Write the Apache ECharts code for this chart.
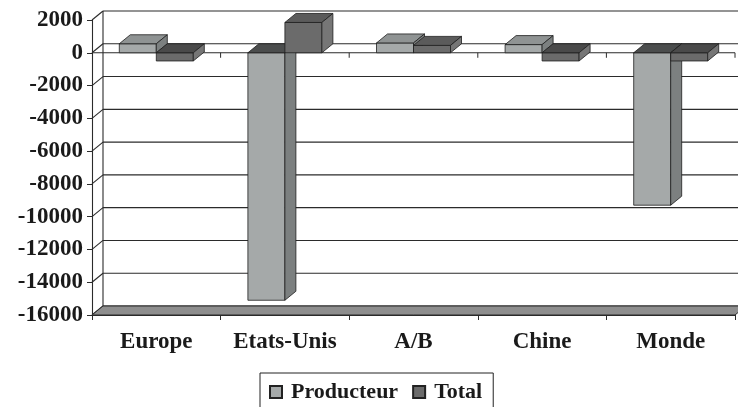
<!DOCTYPE html>
<html>
<head>
<meta charset="utf-8">
<script src="https://cdn.jsdelivr.net/npm/echarts@6/dist/echarts.min.js"></script>
<style>
  html, body { margin: 0; padding: 0; background: #fff; }
  #chart { width: 738px; height: 407px; }
</style>
</head>
<body>
<div id="chart"></div>
<script>
// Balance per region (Producteur vs Total)
const categories = ['Europe', 'Etats-Unis', 'A/B', 'Chine', 'Monde'];
const producteur = [550, -15100, 600, 500, -9300];
const total = [-500, 1850, 450, -500, -500];
const yTicks = [2000, 0, -2000, -4000, -6000, -8000, -10000, -12000, -14000, -16000];

// Pseudo-3D depth offset (pixels) and bar width
const DX = 11, DY = -9;
const BAR_W = 37;
const SERIF = '"Liberation Serif", "Times New Roman", serif';

const palette = {
  Producteur: { front: '#a5a9a9', topPos: '#8f9393', topNeg: '#4b4d4d', side: '#7c8080' },
  Total: { front: '#6b6b6b', topPos: '#5b5b5b', topNeg: '#4a4a4a', side: '#767676' }
};

// Back wall gridlines + side wall diagonals, one item per tick value
function renderGrid(params, api) {
  const cs = params.coordSys;
  const y = api.coord([0, api.value(1)])[1];
  const x0 = cs.x, x1 = cs.x + cs.width;
  const st = { stroke: '#2b2b2b', lineWidth: 1.1 };
  return {
    type: 'group',
    children: [
      { type: 'line', shape: { x1: x0, y1: y, x2: x0 + DX, y2: y + DY }, style: st },
      { type: 'line', shape: { x1: x0 + DX, y1: y + DY, x2: x1 + DX, y2: y + DY }, style: st }
    ]
  };
}

// Floor, wall edge and the front zero line with its category ticks
function renderFrame(params, api) {
  const cs = params.coordSys;
  const x0 = cs.x, x1 = cs.x + cs.width;
  const yB = api.coord([0, yTicks[yTicks.length - 1]])[1];
  const yT = api.coord([0, yTicks[0]])[1];
  const y0 = api.coord([0, 0])[1];
  const band = cs.width / categories.length;
  const children = [
    { type: 'polygon', shape: { points: [[x0, yB], [x1, yB], [x1 + DX, yB + DY], [x0 + DX, yB + DY]] },
      style: { fill: '#8e8e8e', stroke: '#2b2b2b', lineWidth: 1 } },
    { type: 'line', shape: { x1: x0 + DX, y1: yT + DY, x2: x0 + DX, y2: yB + DY },
      style: { stroke: '#2b2b2b', lineWidth: 1.1 } },
    { type: 'line', shape: { x1: x0, y1: y0, x2: x1, y2: y0 },
      style: { stroke: '#2b2b2b', lineWidth: 1.1 } }
  ];
  for (let i = 1; i <= categories.length; i++) {
    const x = x0 + i * band;
    children.push({ type: 'line', shape: { x1: x, y1: y0, x2: x, y2: y0 + 5 },
      style: { stroke: '#2b2b2b', lineWidth: 1 } });
  }
  return { type: 'group', children };
}

function barRenderer(slot, colors) {
  return function (params, api) {
    const ci = api.value(0), v = api.value(1);
    const base = api.coord([ci, 0]);
    const tip = api.coord([ci, v]);
    const xl = base[0] - BAR_W + slot * BAR_W;
    const xr = xl + BAR_W;
    const yT = Math.min(base[1], tip[1]);
    const yB = Math.max(base[1], tip[1]);
    const edge = { stroke: '#1e1e1e', lineWidth: 0.8 };
    return {
      type: 'group',
      children: [
        { type: 'polygon', shape: { points: [[xl, yT], [xl, yB], [xr, yB], [xr, yT]] },
          style: Object.assign({ fill: colors.front }, edge) },
        { type: 'polygon', shape: { points: [[xl, yT], [xr, yT], [xr + DX, yT + DY], [xl + DX, yT + DY]] },
          style: Object.assign({ fill: v >= 0 ? colors.topPos : colors.topNeg }, edge) },
        { type: 'polygon', shape: { points: [[xr, yT], [xr + DX, yT + DY], [xr + DX, yB + DY], [xr, yB]] },
          style: Object.assign({ fill: colors.side }, edge) }
      ]
    };
  };
}

const chart = echarts.init(document.getElementById('chart'), null, { renderer: 'canvas' });
chart.setOption({
  animation: false,
  backgroundColor: '#fff',
  textStyle: { fontFamily: SERIF },
  grid: { left: 92, right: 3, top: 20, bottom: 92, containLabel: false },
  legend: {
    data: ['Producteur', 'Total'],
    left: 260,
    top: 373,
    orient: 'horizontal',
    icon: 'rect',
    itemWidth: 12,
    itemHeight: 12,
    itemGap: 14,
    padding: [8, 11, 6, 9],
    backgroundColor: '#fff',
    borderColor: '#222',
    borderWidth: 1,
    borderRadius: 0,
    textStyle: { fontFamily: SERIF, fontWeight: 'bold', fontSize: 22, color: '#1a1a1a', padding: [0, 0, 0, 4] },
    selectedMode: false
  },
  xAxis: {
    type: 'category',
    data: categories,
    boundaryGap: true,
    axisLine: { show: true, onZero: false, lineStyle: { color: '#2b2b2b', width: 1.1 } },
    axisTick: { show: true, length: 5, alignWithLabel: false, interval: 0, lineStyle: { color: '#2b2b2b' } },
    axisLabel: { interval: 0, margin: 16, fontFamily: SERIF, fontWeight: 'bold', fontSize: 23, color: '#1a1a1a' },
    splitLine: { show: false }
  },
  yAxis: {
    type: 'value',
    min: -16000,
    max: 2000,
    interval: 2000,
    axisLine: { show: true, lineStyle: { color: '#2b2b2b', width: 1.1 } },
    axisTick: { show: true, length: 5, lineStyle: { color: '#2b2b2b' } },
    axisLabel: { margin: 9, formatter: v => String(v), fontFamily: SERIF, fontWeight: 'bold', fontSize: 23, color: '#1a1a1a' },
    splitLine: { show: false }
  },
  series: [
    {
      type: 'custom', name: 'grid', z: 1, silent: true,
      renderItem: renderGrid,
      data: yTicks.map(v => [0, v]),
      encode: { x: 0, y: 1 }
    },
    {
      type: 'custom', name: 'frame', z: 2, silent: true,
      renderItem: renderFrame,
      data: [[0, 0]],
      encode: { x: 0, y: 1 }
    },
    {
      type: 'custom', name: 'Producteur', z: 3,
      itemStyle: { color: palette.Producteur.front, borderColor: '#222', borderWidth: 1 },
      renderItem: barRenderer(0, palette.Producteur),
      data: producteur.map((v, i) => [i, v]),
      encode: { x: 0, y: 1 }
    },
    {
      type: 'custom', name: 'Total', z: 4,
      itemStyle: { color: palette.Total.front, borderColor: '#222', borderWidth: 1 },
      renderItem: barRenderer(1, palette.Total),
      data: total.map((v, i) => [i, v]),
      encode: { x: 0, y: 1 }
    }
  ]
});
</script>
</body>
</html>
